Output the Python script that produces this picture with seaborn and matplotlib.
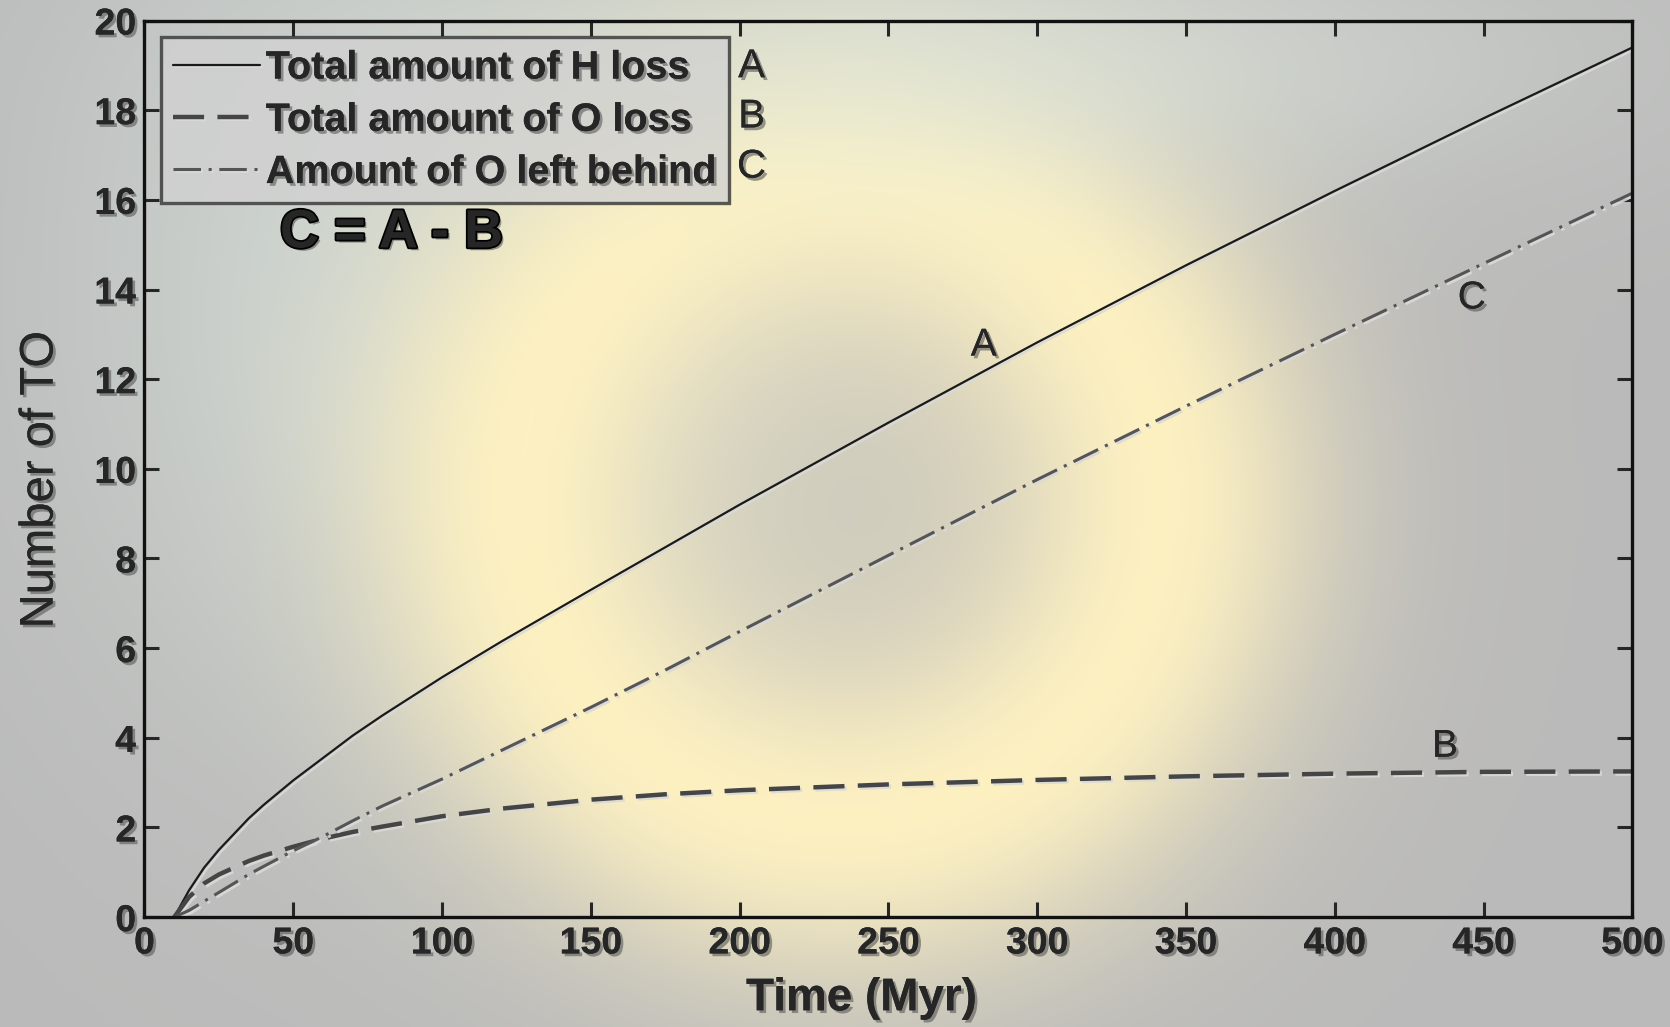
import numpy as np
import pandas as pd
import matplotlib
matplotlib.use("Agg")
import matplotlib.pyplot as plt
import matplotlib.patheffects as pe
import seaborn as sns

# values
time_myr = [10, 15, 20, 25, 30, 35, 40, 50, 60, 70, 80, 100, 120, 150, 175, 200, 250, 300, 350, 400, 450, 500]
h_loss = [0.0, 0.6, 1.1, 1.5, 1.85, 2.2, 2.5, 3.05, 3.55, 4.05, 4.5, 5.35, 6.15, 7.3, 8.25, 9.2,
          11.03, 12.82, 14.54, 16.2, 17.82, 19.4]
o_loss = [0.0, 0.45, 0.75, 0.95, 1.1, 1.25, 1.37, 1.57, 1.75, 1.9, 2.02, 2.25, 2.42, 2.62, 2.74, 2.83,
          2.96, 3.06, 3.14, 3.2, 3.24, 3.25]
o_left = [0.0, 0.15, 0.35, 0.55, 0.75, 0.95, 1.13, 1.48, 1.8, 2.15, 2.48, 3.08, 3.72, 4.68, 5.51, 6.37,
          8.07, 9.76, 11.4, 13.0, 14.58, 16.15]

legend_labels = ["Total amount of H loss", "Total amount of O loss", "Amount of O left behind"]
curve_letters = ["A", "B", "C"]

sns.set_style("ticks")
plt.rcParams['font.family'] = ['Liberation Sans', 'DejaVu Sans']
plt.rcParams['font.weight'] = 'bold'

fig = plt.figure(figsize=(16.7, 10.27), dpi=100)

# glowing background
bg = fig.add_axes([0, 0, 1, 1], zorder=-10)
H, W = 514, 835
yy, xx = np.mgrid[0:H, 0:W]
xx = xx / W * 1670
yy = yy / H * 1027
r = np.hypot(xx - 840, yy - 500)
ring = np.exp(-((r - 330) / 160) ** 2)
core = np.exp(-(r / 420) ** 2)
base = np.array([0.73, 0.73, 0.73])
warm = np.array([1.0, 0.95, 0.76])
cool = np.array([0.84, 0.89, 0.87])
cl = np.exp(-(((xx - 380) / 330) ** 2 + ((yy - 300) / 420) ** 2))
top = np.exp(-(((xx - 1000) / 550) ** 2 + ((yy - 60) / 140) ** 2))
img = base[None, None, :] * np.ones((H, W, 3))
img = img * (1 - 0.6 * cl[..., None]) + cool * 0.6 * cl[..., None]
wgt = np.clip(0.8 * ring + 0.3 * core, 0, 1)[..., None]
img = img * (1 - wgt) + warm * wgt
img = img * (1 - 0.55 * top[..., None]) + np.array([0.88, 0.92, 0.88]) * 0.55 * top[..., None]
bg.imshow(img, aspect="auto", extent=[0, 1, 0, 1], interpolation="bilinear")
bg.set_axis_off()

ax = fig.add_axes([0.0865, 0.107, 0.891, 0.873])
ax.patch.set_alpha(0)

shadow = [pe.withSimplePatchShadow(offset=(2, -2), shadow_rgbFace=(0.35, 0.35, 0.35), alpha=0.6), pe.Normal()]
lshadow = [pe.SimpleLineShadow(offset=(1.5, -1.5), shadow_color="0.85", alpha=0.9), pe.Normal()]

df = pd.DataFrame({"t": time_myr, "A": h_loss, "B": o_loss, "C": o_left})
sns.lineplot(data=df, x="t", y="A", ax=ax, color="#1a1a1a", lw=1.6, label=legend_labels[0], path_effects=lshadow)
sns.lineplot(data=df, x="t", y="B", ax=ax, color="#454545", lw=3.2, linestyle=(0, (7, 3)),
             label=legend_labels[1], path_effects=lshadow)
sns.lineplot(data=df, x="t", y="C", ax=ax, color="#555555", lw=2.2, linestyle=(0, (9, 2.5, 1, 2.5)),
             label=legend_labels[2], path_effects=lshadow)

ax.set_xlim(0, 500)
ax.set_ylim(0, 20)
ax.set_xticks(np.arange(0, 501, 50))
ax.set_yticks(np.arange(0, 21, 2))
ax.tick_params(direction="in", length=11, width=2.2, labelsize=27, top=True, right=True, pad=6)
for s in ax.spines.values():
    s.set_linewidth(2.4)
    s.set_color("#111111")
for lab in ax.get_xticklabels() + ax.get_yticklabels():
    lab.set_fontweight("bold")
    lab.set_path_effects(shadow)

ax.set_xlabel("Time (Myr)", fontsize=33, fontweight="bold", path_effects=shadow)
ax.xaxis.set_label_coords(0.482, -0.066)
ax.set_ylabel("Number of TO", fontsize=34, fontweight="normal", path_effects=shadow)
ax.yaxis.set_label_coords(-0.055, 0.488)

leg = ax.legend(loc="upper left", bbox_to_anchor=(0.011, 0.982), fontsize=28.5, frameon=True, fancybox=False,
                handlelength=2.2, handletextpad=0.15, borderpad=0.3, labelspacing=0.36, borderaxespad=0)
leg.get_frame().set_edgecolor("#333333")
leg.get_frame().set_linewidth(2.4)
leg.get_frame().set_facecolor((0.82, 0.82, 0.82, 0.35))
for txt in leg.get_texts():
    txt.set_fontweight("bold")
    txt.set_path_effects(shadow)

# letters next to legend entries and on curves
for i, letter in enumerate(curve_letters):
    ax.text(204, 18.98 - i * 1.12, letter, fontsize=29, fontweight="normal", ha="center", va="center",
            path_effects=shadow)
ax.text(282, 12.75, "A", fontsize=28, fontweight="normal", ha="center", va="center", path_effects=shadow)
ax.text(437, 3.8, "B", fontsize=28, fontweight="normal", ha="center", va="center", path_effects=shadow)
ax.text(446, 13.8, "C", fontsize=28, fontweight="normal", ha="center", va="center", path_effects=shadow)
heavy = [pe.withSimplePatchShadow(offset=(2, -2), shadow_rgbFace=(0.35, 0.35, 0.35), alpha=0.6),
         pe.Stroke(linewidth=2.5, foreground="black"), pe.Normal()]
ax.text(83, 15.25, "C = A - B", fontsize=39, fontweight="heavy", ha="center", va="center", path_effects=heavy)

fig.savefig("out.png", dpi=100)
